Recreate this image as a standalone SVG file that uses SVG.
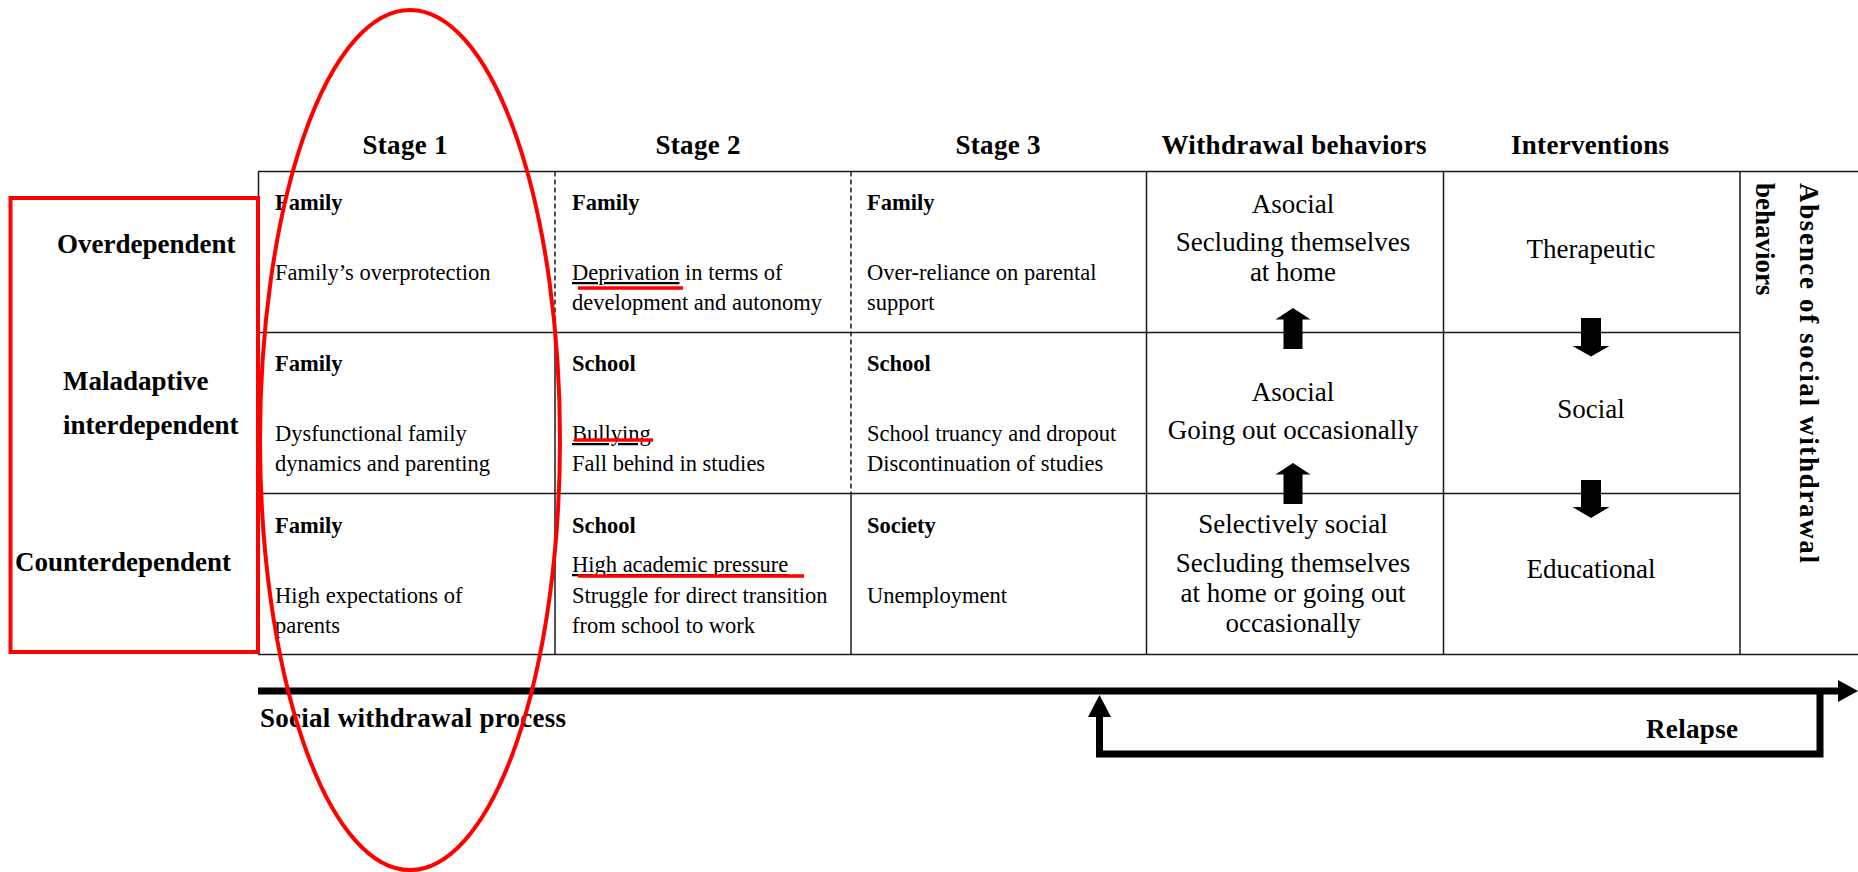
<svg xmlns="http://www.w3.org/2000/svg" width="1858" height="872" viewBox="0 0 1858 872">
  <style>
    text { font-family: "Liberation Serif", "Times New Roman", serif; fill: #000; }
    .grid line { stroke: #1a1a1a; stroke-width: 1.5; }
    .dash { stroke-dasharray: 5 3; }
    .hdr { font-size: 27px; font-weight: bold; text-anchor: middle; }
    .lbl { font-size: 27px; font-weight: bold; }
    .ch { font-size: 22.5px; font-weight: bold; }
    .cb { font-size: 22.5px; }
    .mid { font-size: 27px; text-anchor: middle; }
    .ul { text-decoration: underline; }
    .blk { fill: #000; stroke: none; }
    .flow { fill: none; stroke: #000; stroke-width: 7; }
    .red { fill: none; stroke: #ff0000; stroke-width: 4; }
    .redline { stroke: #ff0000; stroke-width: 3.5; }
  </style>

  <rect width="1858" height="872" fill="#fff"/>

  <!-- column headings -->
  <g id="headers">
    <text class="hdr" x="405" y="154" textLength="85" lengthAdjust="spacing">Stage 1</text>
    <text class="hdr" x="698" y="154" textLength="85" lengthAdjust="spacing">Stage 2</text>
    <text class="hdr" x="998" y="154" textLength="85" lengthAdjust="spacing">Stage 3</text>
    <text class="hdr" x="1294" y="154" textLength="265" lengthAdjust="spacing">Withdrawal behaviors</text>
    <text class="hdr" x="1590" y="154" textLength="158" lengthAdjust="spacing">Interventions</text>
  </g>

  <!-- table grid -->
  <g id="grid" class="grid">
    <line x1="258" y1="171.5" x2="1858" y2="171.5"/>
    <line x1="258" y1="654.5" x2="1858" y2="654.5"/>
    <line x1="258" y1="332.5" x2="1740" y2="332.5"/>
    <line x1="258" y1="493.5" x2="1740" y2="493.5"/>
    <line x1="258.5" y1="171.5" x2="258.5" y2="654.5"/>
    <line class="dash" x1="555" y1="171.5" x2="555" y2="332.5"/>
    <line x1="555" y1="332.5" x2="555" y2="654.5"/>
    <line class="dash" x1="851" y1="171.5" x2="851" y2="493.5"/>
    <line x1="851" y1="493.5" x2="851" y2="654.5"/>
    <line x1="1146.5" y1="171.5" x2="1146.5" y2="654.5"/>
    <line x1="1443.5" y1="171.5" x2="1443.5" y2="654.5"/>
    <line x1="1740" y1="171.5" x2="1740" y2="654.5"/>
  </g>

  <!-- row labels -->
  <g id="row-overdependent">
    <text class="lbl" x="57" y="253">Overdependent</text>
  </g>
  <g id="row-maladaptive">
    <text class="lbl" x="63" y="390">Maladaptive</text>
    <text class="lbl" x="63" y="434">interdependent</text>
  </g>
  <g id="row-counterdependent">
    <text class="lbl" x="15" y="571">Counterdependent</text>
  </g>

  <!-- row 1 -->
  <g id="r1-stage1">
    <text class="ch" x="275" y="210">Family</text>
    <text class="cb" x="275" y="280">Family’s overprotection</text>
  </g>
  <g id="r1-stage2">
    <text class="ch" x="572" y="210">Family</text>
    <text class="cb" x="572" y="280"><tspan class="ul">Deprivation</tspan> in terms of</text>
    <text class="cb" x="572" y="310">development and autonomy</text>
  </g>
  <g id="r1-stage3">
    <text class="ch" x="867" y="210">Family</text>
    <text class="cb" x="867" y="280">Over-reliance on parental</text>
    <text class="cb" x="867" y="310">support</text>
  </g>
  <g id="r1-withdrawal">
    <text class="mid" x="1293" y="213">Asocial</text>
    <text class="mid" x="1293" y="251">Secluding themselves</text>
    <text class="mid" x="1293" y="281">at home</text>
  </g>
  <g id="r1-intervention">
    <text class="mid" x="1591" y="258">Therapeutic</text>
  </g>

  <!-- row 2 -->
  <g id="r2-stage1">
    <text class="ch" x="275" y="371">Family</text>
    <text class="cb" x="275" y="441">Dysfunctional family</text>
    <text class="cb" x="275" y="471">dynamics and parenting</text>
  </g>
  <g id="r2-stage2">
    <text class="ch" x="572" y="371">School</text>
    <text class="cb" x="572" y="441"><tspan class="ul">Bullying</tspan></text>
    <text class="cb" x="572" y="471">Fall behind in studies</text>
  </g>
  <g id="r2-stage3">
    <text class="ch" x="867" y="371">School</text>
    <text class="cb" x="867" y="441">School truancy and dropout</text>
    <text class="cb" x="867" y="471">Discontinuation of studies</text>
  </g>
  <g id="r2-withdrawal">
    <text class="mid" x="1293" y="401">Asocial</text>
    <text class="mid" x="1293" y="439">Going out occasionally</text>
  </g>
  <g id="r2-intervention">
    <text class="mid" x="1591" y="418">Social</text>
  </g>

  <!-- row 3 -->
  <g id="r3-stage1">
    <text class="ch" x="275" y="533">Family</text>
    <text class="cb" x="275" y="603">High expectations of</text>
    <text class="cb" x="275" y="633">parents</text>
  </g>
  <g id="r3-stage2">
    <text class="ch" x="572" y="533">School</text>
    <text class="cb" x="572" y="572"><tspan class="ul">High academic pressure</tspan></text>
    <text class="cb" x="572" y="603">Struggle for direct transition</text>
    <text class="cb" x="572" y="633">from school to work</text>
  </g>
  <g id="r3-stage3">
    <text class="ch" x="867" y="533">Society</text>
    <text class="cb" x="867" y="603">Unemployment</text>
  </g>
  <g id="r3-withdrawal">
    <text class="mid" x="1293" y="533">Selectively social</text>
    <text class="mid" x="1293" y="572">Secluding themselves</text>
    <text class="mid" x="1293" y="602">at home or going out</text>
    <text class="mid" x="1293" y="632">occasionally</text>
  </g>
  <g id="r3-intervention">
    <text class="mid" x="1591" y="578">Educational</text>
  </g>

  <!-- outcome column, set vertically -->
  <g id="outcome">
    <text class="lbl" font-size="30" transform="translate(1800,183) rotate(90)" textLength="380" lengthAdjust="spacing">Absence of social withdrawal</text>
    <text class="lbl" font-size="30" transform="translate(1756,183) rotate(90)">behaviors</text>
  </g>

  <!-- process line, relapse loop and block arrows -->
  <g id="connectors">
    <line class="flow" x1="258" y1="691" x2="1840" y2="691"/>
    <polygon class="blk" points="1838,680 1858,691 1838,702"/>
    <polyline class="flow" points="1820,694 1820,754 1099.5,754 1099.5,714"/>
    <polygon class="blk" points="1088,717 1099.5,695 1111,717"/>
    <!-- withdrawal column: upward steps -->
    <polygon class="blk" points="1293,308 1310.5,319.5 1302.5,319.5 1302.5,349 1283.5,349 1283.5,319.5 1275.5,319.5"/>
    <polygon class="blk" points="1293,463 1310.5,474.5 1302.5,474.5 1302.5,504 1283.5,504 1283.5,474.5 1275.5,474.5"/>
    <!-- intervention column: downward steps -->
    <polygon class="blk" points="1581,318 1601,318 1601,346 1609.5,346 1591,356.5 1572.5,346 1581,346"/>
    <polygon class="blk" points="1581,480 1601,480 1601,507 1609.5,507 1591,518 1572.5,507 1581,507"/>
  </g>
  <g id="process-labels">
    <text class="lbl" x="260" y="727" textLength="306" lengthAdjust="spacing">Social withdrawal process</text>
    <text class="lbl" x="1646" y="738" textLength="92" lengthAdjust="spacing">Relapse</text>
  </g>

  <!-- red highlight marks -->
  <g id="highlights">
    <rect class="red" x="10.5" y="198" width="247.5" height="454"/>
    <ellipse class="red" cx="410" cy="440" rx="150" ry="430"/>
    <line class="redline" x1="578" y1="288" x2="683" y2="288"/>
    <line class="redline" x1="574" y1="440" x2="653" y2="440"/>
    <line class="redline" x1="578" y1="576" x2="804" y2="576"/>
  </g>
</svg>
